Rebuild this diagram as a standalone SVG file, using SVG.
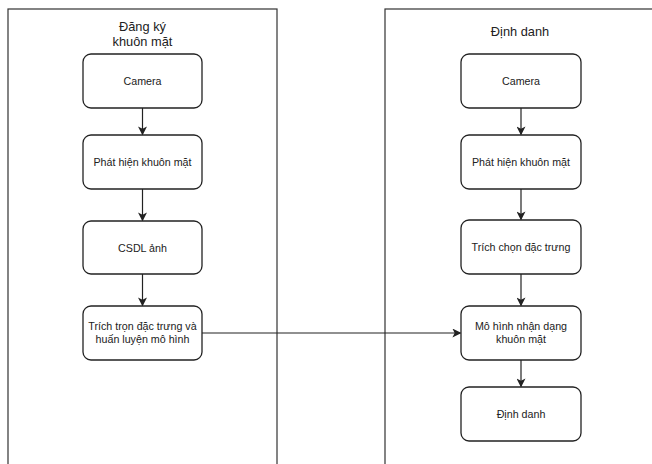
<svg xmlns="http://www.w3.org/2000/svg" width="652" height="464" viewBox="0 0 652 464">
<style>
.c{fill:#fff;stroke:#333;stroke-width:1.2}
.n{fill:#fff;stroke:#222;stroke-width:1.3}
.t{font-family:"Liberation Sans",Arial,sans-serif;font-size:10.7px;fill:#222;text-anchor:middle}
.h{font-family:"Liberation Sans",Arial,sans-serif;font-size:12.8px;fill:#222;text-anchor:middle}
.e{fill:none;stroke:#222;stroke-width:1.2}
</style>
<defs>
<marker id="a" viewBox="0 0 10 10" refX="9" refY="5" markerWidth="9" markerHeight="9" markerUnits="userSpaceOnUse" orient="auto">
<path d="M0,0 L10,5 L0,10 L2.5,5 Z" fill="#222"/>
</marker>
</defs>
<g id="lane-register">
<rect class="c" x="8" y="9" width="269" height="470"/>
<text class="h" x="142.5" y="30.5">Đăng ký</text>
<text class="h" x="142.5" y="46">khuôn mặt</text>
</g>
<g id="lane-identify">
<rect class="c" x="385" y="9" width="280" height="470"/>
<text class="h" x="520" y="36">Định danh</text>
</g>
<g id="edges">
<path class="e" d="M142.5,108 V134.5" marker-end="url(#a)"/>
<path class="e" d="M142.5,189 V220.5" marker-end="url(#a)"/>
<path class="e" d="M142.5,274 V305.5" marker-end="url(#a)"/>
<path class="e" d="M521,108 V134.5" marker-end="url(#a)"/>
<path class="e" d="M521,189 V219.5" marker-end="url(#a)"/>
<path class="e" d="M521,274 V305.5" marker-end="url(#a)"/>
<path class="e" d="M521,360 V386.5" marker-end="url(#a)"/>
<path class="e" d="M202,333 H460.5" marker-end="url(#a)"/>
</g>
<g id="l-camera"><rect class="n" x="83" y="54" width="119" height="54" rx="8"/><text class="t" x="142.5" y="85">Camera</text></g>
<g id="l-detect"><rect class="n" x="83" y="135" width="119" height="54" rx="8"/><text class="t" x="142.5" y="166">Phát hiện khuôn mặt</text></g>
<g id="l-db"><rect class="n" x="83" y="221" width="119" height="53" rx="8"/><text class="t" x="142.5" y="251.5">CSDL ảnh</text></g>
<g id="l-train"><rect class="n" x="83" y="306" width="119" height="54" rx="8"/><text class="t" x="142.5" y="330">Trích trọn đặc trưng và</text><text class="t" x="142.5" y="343">huấn luyện mô hình</text></g>
<g id="r-camera"><rect class="n" x="461" y="54" width="120" height="54" rx="8"/><text class="t" x="521" y="85">Camera</text></g>
<g id="r-detect"><rect class="n" x="461" y="135" width="120" height="54" rx="8"/><text class="t" x="521" y="166">Phát hiện khuôn mặt</text></g>
<g id="r-feature"><rect class="n" x="461" y="220" width="120" height="54" rx="8"/><text class="t" x="521" y="251">Trích chọn đặc trưng</text></g>
<g id="r-model"><rect class="n" x="461" y="306" width="120" height="54" rx="8"/><text class="t" x="521" y="330">Mô hình nhận dạng</text><text class="t" x="521" y="343">khuôn mặt</text></g>
<g id="r-id"><rect class="n" x="461" y="387" width="120" height="54" rx="8"/><text class="t" x="521" y="418">Định danh</text></g>
</svg>
